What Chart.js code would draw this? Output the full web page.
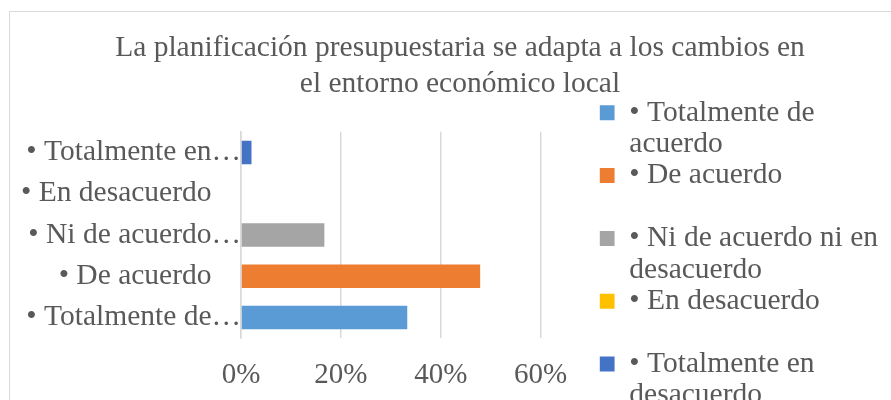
<!DOCTYPE html>
<html><head><meta charset="utf-8">
<script src="https://cdn.jsdelivr.net/npm/chart.js@4.4.1/dist/chart.umd.min.js"></script>
<style>
html,body{margin:0;padding:0;width:891px;height:400px;overflow:hidden;background:#fff;}
#frame{position:absolute;left:9px;top:11px;width:900px;height:420px;border:1px solid #d9d9d9;}
#c{display:block;}
</style></head><body>
<div id="frame"><canvas id="c" width="900" height="420"></canvas></div>
<script>
const chartTitle = ["La planificación presupuestaria se adapta a los cambios en", "el entorno económico local"];
const categories = ["• Totalmente de acuerdo", "• De acuerdo", "• Ni de acuerdo ni en desacuerdo", "• En desacuerdo", "• Totalmente en desacuerdo"];
const values = [0.333, 0.479, 0.167, 0, 0.021];
const barColors = ["#5B9BD5", "#ED7D31", "#A5A5A5", "#FFC000", "#4472C4"];
const xTickLabels = ["0%", "20%", "40%", "60%"];

const FONT = "'Liberation Serif', 'Times New Roman', serif";
const FS = 29.5;
const TEXT = "#595959";
const mctx = document.createElement('canvas').getContext('2d');
mctx.font = FS + "px " + FONT;

function truncate(label, maxW) {
  if (mctx.measureText(label).width <= maxW) return label + "\u2003";
  const words = label.split(' ');
  let out = words[0];
  for (let i = 1; i < words.length; i++) {
    const t = out + ' ' + words[i];
    if (mctx.measureText(t).width > maxW) break;
    out = t;
  }
  return out + "…";
}
function wrap(label, maxW) {
  const words = label.split(' ');
  const lines = [];
  let cur = words[0];
  for (let i = 1; i < words.length; i++) {
    const t = cur + ' ' + words[i];
    if (mctx.measureText(t).width > maxW) { lines.push(cur); cur = words[i]; }
    else cur = t;
  }
  lines.push(cur);
  while (lines.length < 2) lines.push("");
  return lines;
}

new Chart(document.getElementById('c'), {
  type: 'bar',
  data: {
    labels: categories,
    datasets: [{
      data: values,
      backgroundColor: barColors,
      borderWidth: 0,
      barPercentage: 0.57,
      categoryPercentage: 1.0
    }]
  },
  options: {
    indexAxis: 'y',
    responsive: false,
    animation: false,
    devicePixelRatio: 1,
    layout: { padding: { left: 0, right: 0, top: 0, bottom: 0 } },
    scales: {
      x: {
        type: 'linear', min: 0, max: 0.6,
        ticks: {
          stepSize: 0.2, color: TEXT, padding: 20,
          font: { family: FONT, size: 29, lineHeight: 1.2 },
          callback: (v, i) => xTickLabels[i]
        },
        grid: { color: '#d9d9d9', lineWidth: 1.5, drawTicks: false },
        border: { display: false },
        afterFit: s => { s.height = 94; }
      },
      y: {
        type: 'category', reverse: true,
        grid: { display: false, drawTicks: false },
        border: { display: true, color: '#d9d9d9', width: 1.5 },
        ticks: {
          padding: 0, color: TEXT,
          font: { family: FONT, size: FS },
          callback: function (v, i) { return truncate(this.getLabelForValue(v), 200); }
        },
        afterFit: s => { s.width = 231; }
      },
      y2: {
        type: 'linear', axis: 'y', position: 'right', display: true,
        grid: { display: false, drawTicks: false },
        border: { display: false },
        ticks: { display: false },
        afterFit: s => { s.width = 59; }
      },
      y3: {
        type: 'linear', axis: 'y', position: 'right', display: true, weight: 2000,
        grid: { display: false, drawTicks: false },
        border: { display: false },
        ticks: { display: false },
        afterFit: s => { s.width = 22; }
      }
    },
    plugins: {
      tooltip: { enabled: false },
      title: {
        display: true, text: chartTitle, color: TEXT,
        font: { family: FONT, size: FS, weight: 'normal', lineHeight: 1.2 },
        padding: { top: 19, bottom: 30 }
      },
      legend: {
        position: 'right', fullSize: true, align: 'start', maxWidth: 400,
        title: { display: true, text: '', font: { size: 10, lineHeight: 1.2 }, padding: { top: 74, bottom: 0 } },
        labels: {
          boxWidth: 15, boxHeight: 15, padding: 0, color: TEXT,
          font: { family: FONT, size: FS, lineHeight: 1.065 },
          generateLabels: () => categories.map((c, i) => ({
            text: wrap(c, 262), fillStyle: barColors[i], strokeStyle: barColors[i],
            lineWidth: 0, hidden: false, index: i, datasetIndex: 0, fontColor: TEXT
          }))
        }
      }
    }
  }
});
</script>
</body></html>
